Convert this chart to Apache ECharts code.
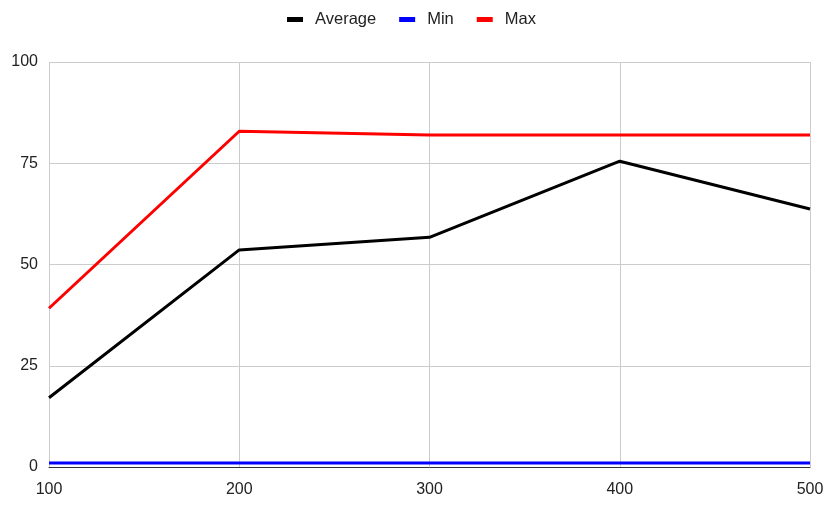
<!DOCTYPE html>
<html>
<head>
<meta charset="utf-8">
<script src="https://cdn.jsdelivr.net/npm/echarts@6/dist/echarts.min.js"></script>
<style>html,body{margin:0;padding:0;background:#fff}#c{width:833px;height:505px}</style>
</head>
<body>
<div id="c"></div>
<script>
const categories = ['100', '200', '300', '400', '500'];
const averageValues = [17.1, 53.6, 56.7, 75.5, 63.7];
const minValues = [1, 1, 1, 1, 1];
const maxValues = [39.2, 82.9, 82, 82, 82];
const yTicks = [0, 25, 50, 75, 100];

const chart = echarts.init(document.getElementById('c'), null, {renderer: 'canvas'});
const font = 'Liberation Sans, Arial, sans-serif';
function line(name, data, color) {
  return {
    name: name, type: 'line', data: data, symbol: 'none',
    lineStyle: {color: color, width: 3}, itemStyle: {color: color},
    animation: false
  };
}
chart.setOption({
  animation: false,
  legend: {
    top: 6, left: 282, icon: 'rect', itemWidth: 16, itemHeight: 5, itemGap: 23,
    textStyle: {fontFamily: font, fontSize: 16.5, color: '#222', padding: [0, 0, 0, 7]},
    data: ['Average', 'Min', 'Max']
  },
  grid: {left: 49, right: 23, top: 62, bottom: 38, containLabel: false},
  xAxis: {
    type: 'category', data: categories, boundaryGap: false,
    axisLine: {show: true, lineStyle: {color: '#333', width: 1}},
    axisTick: {show: false},
    axisLabel: {fontFamily: font, fontSize: 16, color: '#222', margin: 15},
    splitLine: {show: true, lineStyle: {color: '#cccccc', width: 1}}
  },
  yAxis: {
    type: 'value', min: yTicks[0], max: yTicks[yTicks.length - 1], interval: 25,
    axisLine: {show: false}, axisTick: {show: false},
    axisLabel: {fontFamily: font, fontSize: 16, color: '#222', margin: 11},
    splitLine: {show: true, lineStyle: {color: '#cccccc', width: 1}}
  },
  series: [
    line('Average', averageValues, '#000000'),
    line('Min', minValues, '#0000ff'),
    line('Max', maxValues, '#ff0000')
  ]
});
</script>
</body>
</html>
